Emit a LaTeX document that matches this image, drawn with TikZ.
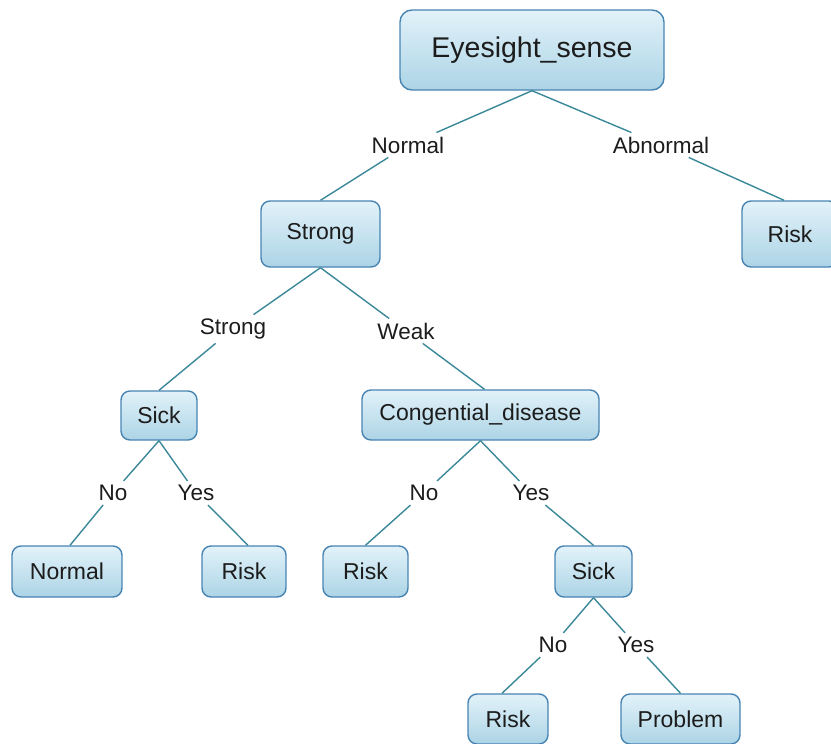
\documentclass[tikz,border=0pt]{standalone}
\usepackage{fontspec}
\setmainfont{Liberation Sans}
\definecolor{boxtop}{RGB}{226,242,249}
\definecolor{boxbot}{RGB}{172,212,230}
\definecolor{boxline}{RGB}{72,132,178}
\definecolor{edgecol}{RGB}{58,136,152}
\definecolor{txt}{RGB}{28,28,28}
\tikzset{
  tnode/.style={draw=boxline, line width=1.4pt, rounded corners=9pt,
    top color=boxtop, bottom color=boxbot, inner sep=0pt,
    font=\fontsize{23}{27}\selectfont, text=txt},
  elabel/.style={font=\fontsize{22.5}{27}\selectfont, text=txt,
    inner xsep=5pt, inner ysep=4pt},
  link/.style={draw=edgecol, line width=1.4pt}
}
\begin{document}
\begin{tikzpicture}[x=1pt,y=-1pt]
\useasboundingbox (0,0) rectangle (831,744);

% decision nodes
\node[tnode, minimum width=264pt, minimum height=80pt, rounded corners=12pt,
      font=\fontsize{28.5}{33}\selectfont] (root) at (532,50) {Eyesight\_sense};
\node[tnode, minimum width=119pt, minimum height=66pt] (strong) at (320.5,234) {Strong};
\node[tnode, minimum width=96pt, minimum height=66pt] (riskA) at (790,234) {Risk};
\node[tnode, minimum width=76pt, minimum height=49pt] (sickA) at (159,415.5) {Sick};
\node[tnode, minimum width=237pt, minimum height=50pt] (cong) at (480.5,415) {Congential\_disease};
\node[tnode, minimum width=110pt, minimum height=51pt] (normal) at (67,571.5) {Normal};
\node[tnode, minimum width=84pt, minimum height=51pt] (riskB) at (244,571.5) {Risk};
\node[tnode, minimum width=85pt, minimum height=51pt] (riskC) at (365.5,571.5) {Risk};
\node[tnode, minimum width=77pt, minimum height=51pt] (sickB) at (593.5,571.5) {Sick};
\node[tnode, minimum width=80pt, minimum height=50pt] (riskD) at (508,719) {Risk};
\node[tnode, minimum width=119pt, minimum height=50pt] (problem) at (680.5,719) {Problem};

% branch labels
\node[elabel] (lNormal) at (408,145) {Normal};
\node[elabel] (lAbnormal) at (661,145) {Abnormal};
\node[elabel] (lStrong) at (233,329) {Strong};
\node[elabel] (lWeak) at (406,331) {Weak};
\node[elabel] (lNoA) at (113,493) {No};
\node[elabel] (lYesA) at (196,493) {Yes};
\node[elabel] (lNoB) at (424,493) {No};
\node[elabel] (lYesB) at (531,493) {Yes};
\node[elabel] (lNoC) at (553,645) {No};
\node[elabel] (lYesC) at (636,645) {Yes};

% connectors
\draw[link] (root.south) -- (lNormal);
\draw[link] (lNormal) -- (strong.north);
\draw[link] (root.south) -- (lAbnormal);
\draw[link] (lAbnormal) -- ([xshift=-6pt]riskA.north);
\draw[link] (strong.south) -- (lStrong);
\draw[link] (lStrong) -- (sickA.north);
\draw[link] (strong.south) -- (lWeak);
\draw[link] (lWeak) -- ([xshift=4pt]cong.north);
\draw[link] (sickA.south) -- (lNoA);
\draw[link] (lNoA) -- ([xshift=3pt]normal.north);
\draw[link] (sickA.south) -- (lYesA);
\draw[link] (lYesA) -- ([xshift=4pt]riskB.north);
\draw[link] (cong.south) -- (lNoB);
\draw[link] (lNoB) -- (riskC.north);
\draw[link] (cong.south) -- (lYesB);
\draw[link] (lYesB) -- (sickB.north);
\draw[link] (sickB.south) -- (lNoC);
\draw[link] (lNoC) -- ([xshift=-6pt]riskD.north);
\draw[link] (sickB.south) -- (lYesC);
\draw[link] (lYesC) -- (problem.north);
\end{tikzpicture}
\end{document}
